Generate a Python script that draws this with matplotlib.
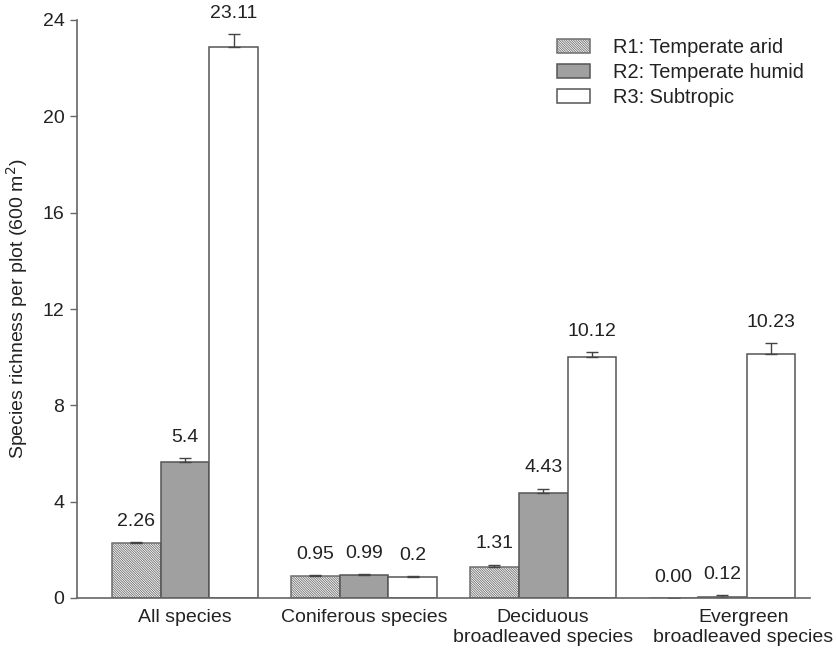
import matplotlib
matplotlib.use("Agg")
import matplotlib.pyplot as plt
from matplotlib.transforms import ScaledTranslation
import numpy as np

plt.rcParams['font.family'] = ['Liberation Sans', 'DejaVu Sans']
plt.rcParams['hatch.linewidth'] = 0.6

categories = ["All species", "Coniferous species",
              "Deciduous\nbroadleaved species", "Evergreen\nbroadleaved species"]
series_names = ["R1: Temperate arid", "R2: Temperate humid", "R3: Subtropic"]
r1 = [2.28, 0.91, 1.29, 0.0]
r2 = [5.65, 0.96, 4.36, 0.06]
r3 = [22.88, 0.87, 10.01, 10.13]
r1_err = [0.03, 0.03, 0.10, 0.0]
r2_err = [0.17, 0.02, 0.18, 0.06]
r3_err = [0.54, 0.03, 0.20, 0.45]
r1_lab = ["2.26", "0.95", "1.31", "0.00"]
r2_lab = ["5.4", "0.99", "4.43", "0.12"]
r3_lab = ["23.11", "0.2", "10.12", "10.23"]
yticks = [0, 4, 8, 12, 16, 20, 24]

fig = plt.figure(figsize=(8.37, 6.52), dpi=100)
ax = fig.add_axes([77/837, 54/652, (810-77)/837, (598-20)/652])

x = np.arange(len(categories))
w = 0.272
edge = '#555555'
styles = [dict(facecolor='white', hatch='\\' * 14, edgecolor='#6e6e6e'),
          dict(facecolor='#a0a0a0', edgecolor=edge),
          dict(facecolor='white', edgecolor=edge)]
vals = [r1, r2, r3]
errs = [r1_err, r2_err, r3_err]
labs = [r1_lab, r2_lab, r3_lab]
for i in range(3):
    pos = x + (i - 1) * w
    ax.bar(pos, vals[i], width=w, linewidth=1.1, label=series_names[i], **styles[i])
    ax.errorbar(pos, vals[i], yerr=[np.zeros(len(x)), errs[i]], fmt='none',
                ecolor='#444444', elinewidth=1.0, capsize=4, capthick=1.0)
    for p, v, e, t in zip(pos, vals[i], errs[i], labs[i]):
        ax.annotate(t, (p, v + e), xytext=(0, 15), textcoords='offset points',
                    ha='center', va='center', fontsize=14, color='#222222')

ax.set_xlim(-0.603, 3.49)
ax.set_ylim(0, 24)
ax.set_yticks(yticks)
ax.set_xticks(x)
ax.set_xticklabels(categories, fontsize=14, color='#222222', linespacing=1.2)
ax.tick_params(axis='x', length=0, pad=8)
ax.tick_params(axis='y', length=5, width=1.0, color='#666666', labelsize=14,
               labelcolor='#222222', pad=4)
# last category label sits a little to the right in the reference
lbl = ax.get_xticklabels()[-1]
lbl.set_transform(lbl.get_transform() + ScaledTranslation(0.21, 0, fig.dpi_scale_trans))

for s in ['top', 'right']:
    ax.spines[s].set_visible(False)
for s in ['left', 'bottom']:
    ax.spines[s].set_color('#666666')
    ax.spines[s].set_linewidth(1.2)
ax.set_ylabel('Species richness per plot (600 m$^2$)', fontsize=14, color='#222222')
ax.yaxis.set_label_coords(-0.064, 0.5)

leg = ax.legend(loc='upper left', bbox_to_anchor=(557/837, 1 - 38/652),
                bbox_transform=fig.transFigure, frameon=False, fontsize=14.4,
                handlelength=1.65, handleheight=0.75, handletextpad=1.15,
                labelspacing=0.3, borderpad=0, borderaxespad=0)
for t in leg.get_texts():
    t.set_color('#222222')

fig.savefig('out.png', dpi=100)
